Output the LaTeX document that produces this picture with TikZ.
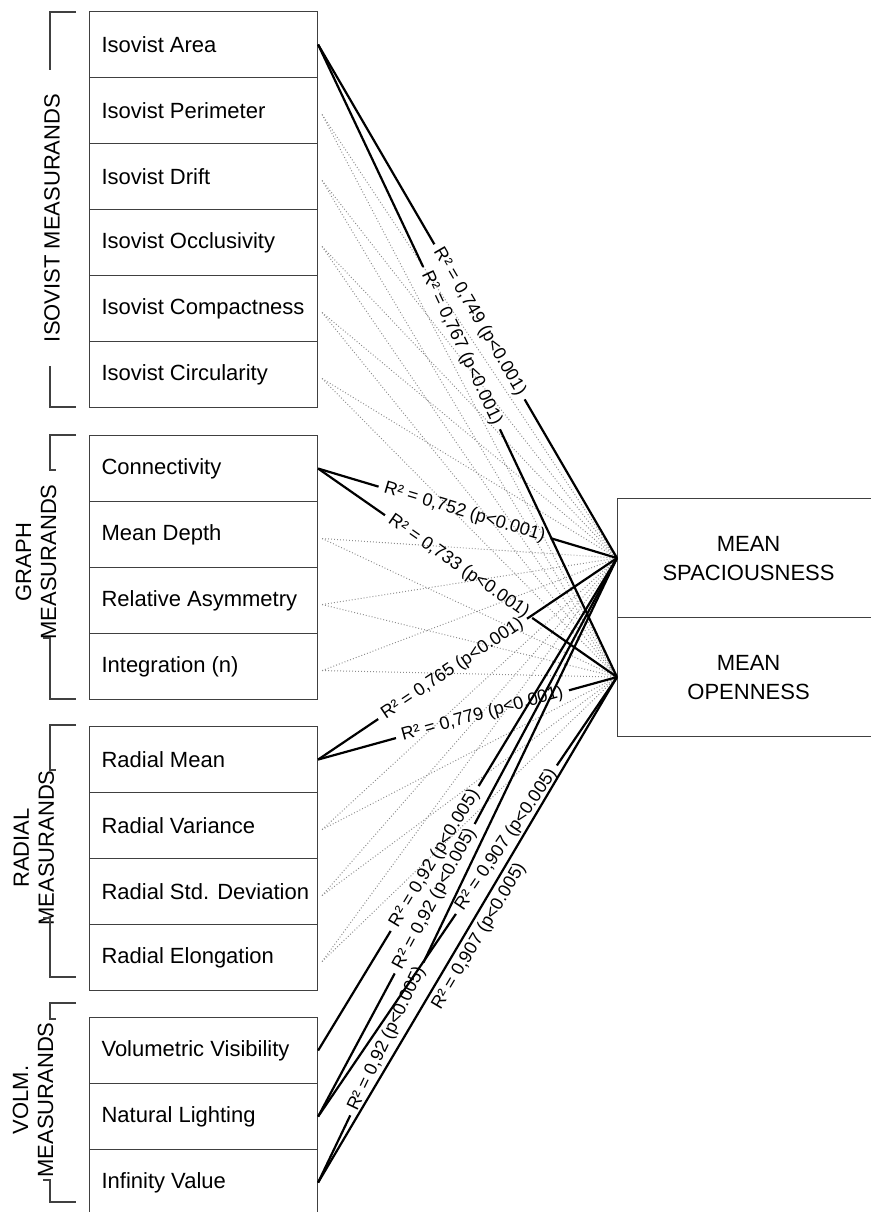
\documentclass[tikz,border=0pt]{standalone}
\usepackage{fontspec}
\setmainfont{Liberation Sans}
\usetikzlibrary{calc}
\newcommand\corrline[5]{%
  \path (#1) -- (#2) node[rlbl, pos=#3] (#5) {#4};
  \draw[conn] (#1) -- (#5);
  \draw[conn] (#5) -- (#2);}
\begin{document}
\begin{tikzpicture}[x=1pt,y=-1pt,
  rowbox/.style={draw=black!75, line width=1.1pt, fill=white, minimum width=228pt,
    minimum height=66pt, inner xsep=12pt, anchor=north west,
    font=\fontsize{22}{26}\selectfont},
  target/.style={draw=black!75, line width=1.1pt, minimum width=262pt,
    minimum height=119pt, anchor=north west, align=center,
    font=\fontsize{22}{29}\selectfont},
  grp/.style={rotate=90, align=center, inner sep=0pt, font=\fontsize{22}{25}\selectfont},
  brk/.style={draw=black!75, line width=1.1pt},
  conn/.style={draw=black, line width=2.2pt},
  dotconn/.style={draw=black!45, line width=1pt, dash pattern=on 0.9pt off 2.1pt},
  rlbl/.style={sloped, inner xsep=6pt, inner ysep=1pt, font=\fontsize{18}{20}\selectfont}]
\useasboundingbox (0,0) rectangle (870,1212);

% target boxes
\node[target] (spac) at (617,498) {MEAN\\SPACIOUSNESS};
\node[target] (open) at (617,617) {MEAN\\OPENNESS};

% rows (names only, drawn later on top of dotted lines)
\foreach \txt [count=\i from 0] in {Isovist Area, Isovist Perimeter, Isovist Drift,
    Isovist Occlusivity, Isovist Compactness, Isovist Circularity}
  \node[rowbox] (iso\i) at (89,{11+66*\i}) {\makebox[204pt][l]{\txt}};
\foreach \txt [count=\i from 0] in {Connectivity, Mean Depth, Relative Asymmetry, Integration (n)}
  \node[rowbox] (gr\i) at (89,{435+66*\i}) {\makebox[204pt][l]{\txt}};
\foreach \txt [count=\i from 0] in {Radial Mean, Radial Variance, Radial Std. Deviation, Radial Elongation}
  \node[rowbox] (rad\i) at (89,{726+66*\i}) {\makebox[204pt][l]{\txt}};
\foreach \txt [count=\i from 0] in {Volumetric Visibility, Natural Lighting, Infinity Value}
  \node[rowbox] (vol\i) at (89,{1017+66*\i}) {\makebox[204pt][l]{\txt}};

% non-significant (dotted) connectors
\foreach \n in {iso1,iso2,iso3,iso4,iso5,gr1,gr2,gr3,rad1,rad2,rad3}{
  \draw[dotconn] ([shift={(4pt,-4pt)}]\n.east) -- (spac.west);
  \draw[dotconn] ([shift={(4pt,-4pt)}]\n.east) -- (open.west);
}

% significant connectors with labels
\corrline{iso0.east}{spac.west}{0.54}{R² = 0,749 (p<0.001)}{l1}
\corrline{iso0.east}{open.west}{0.48}{R² = 0,767 (p<0.001)}{l2}
\corrline{gr0.east}{spac.west}{0.49}{R² = 0,752 (p<0.001)}{l3}
\corrline{gr0.east}{open.west}{0.47}{R² = 0,733 (p<0.001)}{l4}
\corrline{rad0.east}{spac.west}{0.45}{R² = 0,765 (p<0.001)}{l5}
\corrline{rad0.east}{open.west}{0.55}{R² = 0,779 (p<0.001)}{l6}
\corrline{vol0.east}{spac.west}{0.39}{R² = 0,92 (p<0.005)}{l7}
\corrline{vol1.east}{spac.west}{0.39}{R² = 0,92 (p<0.005)}{l8}
\corrline{vol1.east}{open.west}{0.63}{R² = 0,907 (p<0.005)}{l9}
\corrline{vol2.east}{spac.west}{0.23}{R² = 0,92 (p<0.005)}{l10}
\draw[conn] (vol2.east) -- node[rlbl, pos=0.5, below=3pt] (l11) {R² = 0,907 (p<0.005)} (open.west);

% group labels and brackets
\node[grp] (giso) at (52,218) {ISOVIST MEASURANDS};
\draw[brk] (76,12) -- (50,12) -- (50,70);
\draw[brk] (50,366) -- (50,407) -- (76,407);

\node[grp] (ggr) at (36,562) {GRAPH\\MEASURANDS};
\draw[brk] (76,435) -- (50,435) -- (50,470) -- (56,470);
\draw[brk] (43,638) -- (50,638) -- (50,699) -- (76,699);

\node[grp] (grad) at (34,848) {RADIAL\\MEASURANDS};
\draw[brk] (76,725) -- (50,725) -- (50,770) -- (56,770);
\draw[brk] (43,918) -- (50,918) -- (50,977) -- (76,977);

\node[grp] (gvol) at (33,1100) {VOLM.\\MEASURANDS};
\draw[brk] (76,1003) -- (50,1003) -- (50,1019) -- (56,1019);
\draw[brk] (43,1180) -- (50,1180) -- (50,1202) -- (76,1202);
\end{tikzpicture}
\end{document}
